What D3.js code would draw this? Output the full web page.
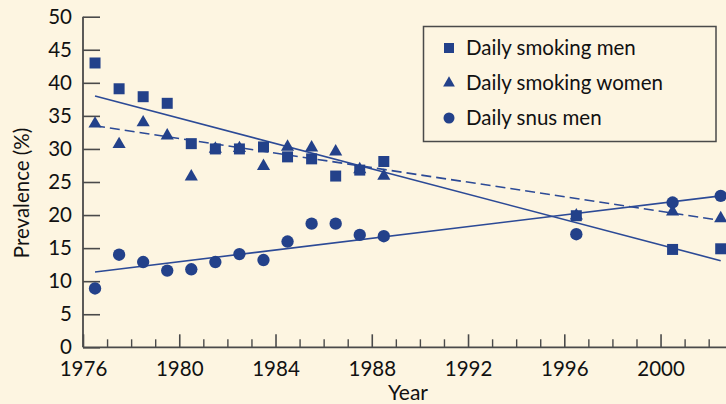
<!DOCTYPE html>
<html><head><meta charset="utf-8">
<script src="https://cdn.jsdelivr.net/npm/d3@7"></script>
<style>
html,body{margin:0;padding:0;background:#fdf5e1;}
svg{display:block;}
text{font-family:Lato, "Open Sans", sans-serif;fill:#111;}
</style></head>
<body>
<svg id="chart" width="726" height="404"></svg>
<script>
// ---- data ----
const years = [1976.5,1977.5,1978.5,1979.5,1980.5,1981.5,1982.5,1983.5,1984.5,1985.5,1986.5,1987.5,1988.5,1996.5,2000.5,2002.5];
const smokingMen   = [43.0,39.1,37.9,36.9,30.8,30.0,30.0,30.3,28.8,28.5,25.9,26.8,28.1,19.9,14.8,14.9];
const smokingWomen = [33.8,30.7,34.0,32.0,25.8,30.0,30.1,27.4,30.3,30.2,29.6,26.9,25.9,19.9,20.5,19.5];
const snusMen      = [8.9,14.0,12.9,11.6,11.8,12.9,14.1,13.2,16.0,18.7,18.7,17.0,16.8,17.1,21.9,22.9];
// trend lines: [start year, end year], [start value, end value]
const trendYears = [1976.5, 2002.5];
const trendSmokingMen = [38.0, 13.1];
const trendSmokingWomen = [33.5, 19.2];
const trendSnusMen = [11.4, 22.9];
const yTicks = [0,5,10,15,20,25,30,35,40,45,50];
const xMajorTicks = [1976,1980,1984,1988,1992,1996,2000];
const seriesNames = ["Daily smoking men","Daily smoking women","Daily snus men"];

const svg = d3.select("#chart");
const W = 726, H = 404;
svg.append("rect").attr("width",W).attr("height",H).attr("fill","#fdf5e1");

const x = d3.scaleLinear().domain([1976, 2002.72]).range([83, 726]);
const y = d3.scaleLinear().domain([0, 50]).range([347.3, 16.7]);
const axisColor = "#4a4a4a";
const markColor = "#23418a";
const lineColor = "#2c4a96";

// y axis
const gy = svg.append("g").attr("transform",`translate(${x(1976)},0)`)
  .call(d3.axisLeft(y).tickValues(yTicks).tickSize(-17).tickPadding(11).tickFormat(d3.format("d")));
gy.select(".domain").remove();
gy.selectAll(".tick line").attr("stroke",axisColor).attr("stroke-width",1.6);
gy.selectAll(".tick text").attr("font-size",20.5).attr("font-family","Lato").attr("fill","#111");
svg.append("line").attr("x1",x(1976)).attr("x2",x(1976)).attr("y1",y(50)).attr("y2",y(0))
  .attr("stroke",axisColor).attr("stroke-width",1.8);

// x axis minor
const minorYears = d3.range(1977, 2003).filter(v => !xMajorTicks.includes(v));
const gxm = svg.append("g").attr("transform",`translate(0,${y(0)})`)
  .call(d3.axisBottom(x).tickValues(minorYears).tickSize(-8).tickFormat(""));
gxm.select(".domain").remove();
gxm.selectAll(".tick line").attr("stroke",axisColor).attr("stroke-width",1.4);
const gx = svg.append("g").attr("transform",`translate(0,${y(0)})`)
  .call(d3.axisBottom(x).tickValues(xMajorTicks).tickSize(-13).tickPadding(14).tickFormat(d3.format("d")));
gx.select(".domain").remove();
gx.selectAll(".tick line").attr("stroke",axisColor).attr("stroke-width",1.6);
gx.selectAll(".tick text").attr("font-size",20.5).attr("font-family","Lato").attr("fill","#111");
svg.append("line").attr("x1",x(1976)).attr("x2",W).attr("y1",y(0)).attr("y2",y(0))
  .attr("stroke",axisColor).attr("stroke-width",1.8);

// axis titles
svg.append("text").attr("x",408).attr("y",400).attr("text-anchor","middle")
  .attr("font-size",21).text("Year");
svg.append("text").attr("transform","translate(29,193) rotate(-90)").attr("text-anchor","middle")
  .attr("font-size",20.5).text("Prevalence (%)");

// trend lines
function trend(vals, dash){
  svg.append("line")
    .attr("x1",x(trendYears[0])).attr("y1",y(vals[0]))
    .attr("x2",x(trendYears[1])).attr("y2",y(vals[1]))
    .attr("stroke",lineColor).attr("stroke-width",1.6)
    .attr("stroke-dasharray",dash||null);
}
trend(trendSmokingMen);
trend(trendSmokingWomen,"10,5");
trend(trendSnusMen);

// markers
const sq = d3.symbol().type(d3.symbolSquare).size(121);
const tri = d3.symbol().type(d3.symbolTriangle).size(75);
const cir = d3.symbol().type(d3.symbolCircle).size(120);
function pts(vals, sym){
  svg.append("g").selectAll("path").data(years.map((yr,i)=>[yr,vals[i]])).join("path")
    .attr("d",sym).attr("fill",markColor)
    .attr("transform",d=>`translate(${x(d[0])},${y(d[1])})`);
}
pts(smokingWomen, tri);
pts(smokingMen, sq);
pts(snusMen, cir);

// legend
const lg = svg.append("g");
lg.append("rect").attr("x",423.5).attr("y",26.5).attr("width",292.5).attr("height",115)
  .attr("fill","#fdf5e1").attr("stroke",axisColor).attr("stroke-width",1.5);
const legSyms = [d3.symbol().type(d3.symbolSquare).size(100), d3.symbol().type(d3.symbolTriangle).size(60), d3.symbol().type(d3.symbolCircle).size(95)];
seriesNames.forEach((n,i)=>{
  const cy = 48 + i*35;
  lg.append("path").attr("d",legSyms[i]).attr("fill",markColor).attr("transform",`translate(449,${cy})`);
  lg.append("text").attr("x",466).attr("y",cy).attr("dy","0.35em").attr("font-size",20.5).text(n);
});
</script>
</body></html>
